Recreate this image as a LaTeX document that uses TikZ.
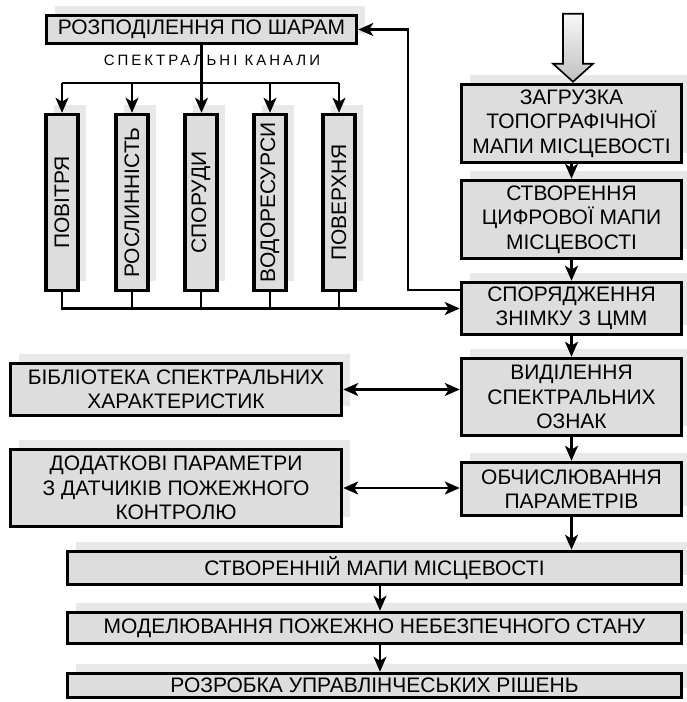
\documentclass[tikz,border=0pt]{standalone}
\usepackage{fontspec}
\setmainfont{Liberation Sans}
\newfontfamily\spacedfont[LetterSpace=20]{Liberation Sans}
\usetikzlibrary{arrows.meta,shadows}
\definecolor{boxColor}{RGB}{221,221,221}
\definecolor{shadowColor}{RGB}{232,232,232}
\tikzset{
  block/.style={draw=black,line width=3.5pt,fill=boxColor,inner sep=0pt,align=center,
    font=\fontsize{21}{24.5}\selectfont,
    drop shadow={shadow xshift=8pt,shadow yshift=9pt,fill=shadowColor,opacity=1}},
  conn/.style={line width=2.3pt,-{Stealth[length=15pt,width=13pt,inset=4pt]}},
  link/.style={line width=2.3pt},
  twoway/.style={line width=2.3pt,{Stealth[length=15pt,width=13pt,inset=4pt]}-{Stealth[length=15pt,width=13pt,inset=4pt]}},
  bigarrow/.style={draw=black,line width=1.6pt,line join=miter,top color=gray!6,bottom color=gray!50}
}
\begin{document}
\begin{tikzpicture}[x=1pt,y=1pt]
\path[use as bounding box,fill=white] (0,0) rectangle (686,702);

\node[block,minimum width=310,minimum height=28] (rozpod) at (201.5,672.5) {РОЗПОДІЛЕННЯ ПО ШАРАМ};
\node[font=\spacedfont\fontsize{15}{18}\selectfont,anchor=base] (chan) at (212,636) {СПЕКТРАЛЬНІ КАНАЛИ};

\foreach \name/\px/\txt in {p1/62/ПОВІТРЯ,p2/132/РОСЛИННІСТЬ,p3/201/СПОРУДИ,p4/270/ВОДОРЕСУРСИ,p5/339/ПОВЕРХНЯ}
  \node[block,rotate=90,minimum width=176,minimum height=32] (\name) at (\px,499.5) {\txt};

\node[block,minimum width=220,minimum height=78] (zagr) at (571.5,578.5) {ЗАГРУЗКА\\ТОПОГРАФІЧНОЇ\\МАПИ МІСЦЕВОСТІ};
\node[block,minimum width=220,minimum height=78] (stvor) at (571.5,482.5) {СТВОРЕННЯ\\ЦИФРОВОЇ МАПИ\\МІСЦЕВОСТІ};
\node[block,minimum width=220,minimum height=52] (sporyad) at (571.5,393.5) {СПОРЯДЖЕННЯ\\ЗНІМКУ З ЦММ};
\node[block,minimum width=220,minimum height=77] (vydil) at (571.5,305) {ВИДІЛЕННЯ\\СПЕКТРАЛЬНИХ\\ОЗНАК};
\node[block,minimum width=220,minimum height=53] (obchysl) at (571.5,213) {ОБЧИСЛЮВАННЯ\\ПАРАМЕТРІВ};

\node[block,minimum width=331,minimum height=52] (bibl) at (176,312.5) {БІБЛІОТЕКА СПЕКТРАЛЬНИХ\\ХАРАКТЕРИСТИК};
\node[block,minimum width=331,minimum height=77] (dodat) at (176,214) {ДОДАТКОВІ ПАРАМЕТРИ\\З ДАТЧИКІВ ПОЖЕЖНОГО\\КОНТРОЛЮ};

\node[block,minimum width=614,minimum height=33] (karta) at (374.5,134) {СТВОРЕННІЙ МАПИ МІСЦЕВОСТІ};
\node[block,minimum width=614,minimum height=31] (model) at (374.5,74) {МОДЕЛЮВАННЯ ПОЖЕЖНО НЕБЕЗПЕЧНОГО СТАНУ};
\node[block,minimum width=614,minimum height=24] (rozrob) at (374.5,16.5) {РОЗРОБКА УПРАВЛІНЧЕСЬКИХ РІШЕНЬ};

\coordinate (tip) at ([xshift=1.5pt,yshift=1pt]zagr.north);
\draw[bigarrow] (tip) -- ++(-20,18) -- ++(10,0) -- ++(0,50) -- ++(20,0) -- ++(0,-50) -- ++(10,0) -- cycle;

\coordinate (bus) at (0,619);
\draw[link] (p1.east |- bus) -- (p5.east |- bus);
\draw[conn] (rozpod.south) -- (rozpod.south |- p3.east);
\foreach \name in {p1,p2,p4,p5}
  \draw[conn] (\name.east |- bus) -- (\name.east);

\draw[conn] (p1.west) |- (sporyad.west);
\foreach \name in {p2,p3,p4,p5}
  \draw[link] (\name.west) -- (\name.west |- sporyad.west);
\draw[conn] ([yshift=18.5pt]sporyad.west) -- ++(-52,0) |- (rozpod.east);

\draw[conn] (zagr) -- (stvor);
\draw[conn] (stvor) -- (sporyad);
\draw[conn] (sporyad) -- (vydil);
\draw[conn] (vydil) -- (obchysl);
\draw[twoway] (bibl.east) -- (bibl.east -| vydil.west);
\draw[twoway] (dodat.east) -- (dodat.east -| obchysl.west);
\draw[conn] (obchysl.south) -- (obchysl.south |- karta.north);
\draw[conn] ([xshift=5.5pt]karta.south) -- ([xshift=5.5pt]model.north);
\draw[conn] ([xshift=5.5pt]model.south) -- ([xshift=5.5pt]rozrob.north);
\end{tikzpicture}
\end{document}
